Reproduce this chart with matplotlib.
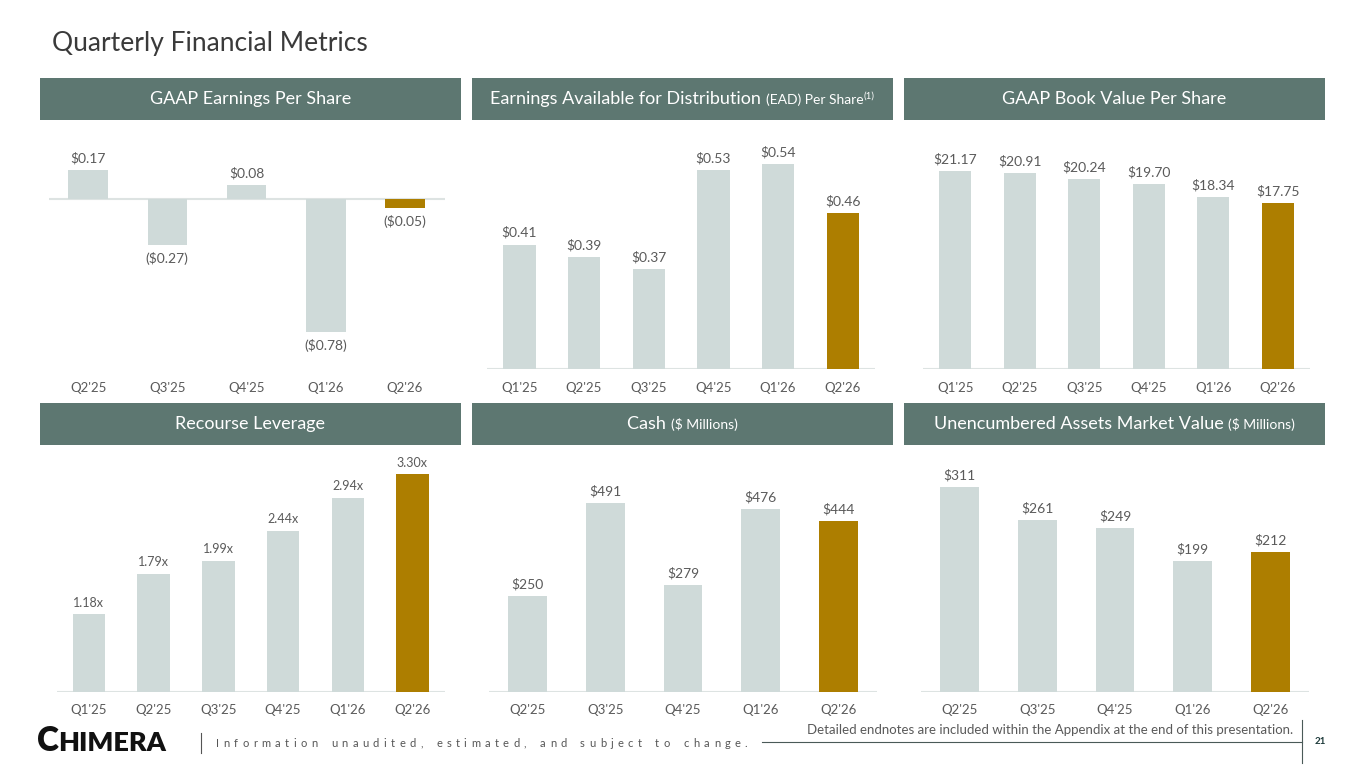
import matplotlib
matplotlib.use('Agg')
import matplotlib.pyplot as plt
from matplotlib.patches import Rectangle
from matplotlib.lines import Line2D

W, H = 1365, 768
plt.rcParams['font.family'] = ['Lato', 'DejaVu Sans']

# data
q_short = ["Q2'25", "Q3'25", "Q4'25", "Q1'26", "Q2'26"]
q_long = ["Q1'25", "Q2'25", "Q3'25", "Q4'25", "Q1'26", "Q2'26"]
gaap_eps = [0.17, -0.27, 0.08, -0.78, -0.05]
ead_ps = [0.41, 0.39, 0.37, 0.53, 0.54, 0.46]
book_value = [21.17, 20.91, 20.24, 19.70, 18.34, 17.75]
leverage = [1.18, 1.79, 1.99, 2.44, 2.94, 3.30]
cash = [250, 491, 279, 476, 444]
unencumbered = [311, 261, 249, 199, 212]

HEAD = '#5d7771'
BAR = '#cfdad9'
GOLD = '#ad7e00'
BASE = '#dde3e2'
TXT = '#5a5a5a'

fig = plt.figure(figsize=(W / 100, H / 100), dpi=100)
fig.patch.set_facecolor('white')
renderer = fig.canvas.get_renderer()


def fx(x):
    return x / W


def fy(y):
    return 1 - y / H


def money(v):
    return f'(${abs(v):.2f})' if v < 0 else f'${v:.2f}'


def header(x0, x1, y0, y1, parts):
    fig.add_artist(Rectangle((fx(x0), fy(y1)), fx(x1 - x0), (y1 - y0) / H,
                             transform=fig.transFigure, color=HEAD, lw=0))
    base = (y0 + y1) / 2 + 5
    texts = []
    for s, size, rise in parts:
        t = fig.text(0, fy(base - rise), s, fontsize=size, color='white',
                     va='baseline', ha='left')
        texts.append(t)
    widths = [t.get_window_extent(renderer).width for t in texts]
    x = (x0 + x1) / 2 - sum(widths) / 2
    for t, w in zip(texts, widths):
        t.set_x(fx(x))
        x += w


def panel(l, r, top, bottom, labels, vals, ylim, fmt, size=10):
    ax = fig.add_axes([fx(l), fy(bottom), fx(r - l), (bottom - top) / H])
    n = len(vals)
    colors = [BAR] * (n - 1) + [GOLD]
    ax.bar(range(n), vals, width=0.5, color=colors, zorder=2)
    ax.axhline(0 if ylim[0] < 0 else ylim[0], color=BASE, lw=1.5, zorder=1)
    ax.set_xlim(-0.5, n - 0.5)
    ax.set_ylim(*ylim)
    for sp in ax.spines.values():
        sp.set_visible(False)
    ax.set_yticks([])
    ax.set_xticks(range(n))
    ax.set_xticklabels(labels, fontsize=9.5, color=TXT)
    ax.tick_params(axis='x', length=0, pad=9)
    ax.patch.set_alpha(0)
    for i, v in enumerate(vals):
        if v >= 0:
            ax.annotate(fmt(v), (i, v), xytext=(0, 4), textcoords='offset points',
                        ha='center', va='bottom', fontsize=size, color=TXT)
        else:
            ax.annotate(fmt(v), (i, v), xytext=(0, -5), textcoords='offset points',
                        ha='center', va='top', fontsize=size, color=TXT)
    return ax


# title
fig.text(fx(52), fy(44), 'Quarterly Financial Metrics', fontsize=19,
         color='#3a3a3a', va='center', ha='left')

# headers
header(40, 461, 78, 120, [('GAAP Earnings Per Share', 13, 0)])
header(472, 893, 78, 120, [('Earnings Available for Distribution ', 13, 0),
                           ('(EAD) Per Share', 10, 0), ('(1)', 7, 5)])
header(904, 1325, 78, 120, [('GAAP Book Value Per Share', 13, 0)])
header(40, 461, 403, 445, [('Recourse Leverage', 13, 0)])
header(472, 893, 403, 445, [('Cash ', 13, 0), ('($ Millions)', 10, 0)])
header(904, 1325, 403, 445, [('Unencumbered Assets Market Value ', 13, 0),
                             ('($ Millions)', 10, 0)])

# panels
panel(48.5, 444.5, 130, 369, q_short, gaap_eps, (-0.994, 0.404), money)
panel(487, 875, 130, 369, q_long, ead_ps, (0.21, 0.594), money)
panel(923, 1310, 130, 369, q_long, book_value, (0, 25.5), money)
panel(56.6, 444.8, 455, 692, q_long, leverage, (0, 3.59),
      lambda v: f'{v:.2f}x', size=9)
panel(488.6, 877.4, 455, 692, q_short, cash, (0, 615.6),
      lambda v: f'${v:.0f}')
panel(920.6, 1309.4, 455, 692, q_short, unencumbered, (0, 359.6),
      lambda v: f'${v:.0f}')

# footer: logo
c = fig.text(fx(37), fy(751), 'C', fontsize=24, fontweight='heavy',
             color='#111111', va='baseline', ha='left')
cw = c.get_window_extent(renderer).width
fig.text(fx(37 + cw - 1), fy(751), 'HIMERA', fontsize=19.5, fontweight='heavy',
         color='#111111', va='baseline', ha='left')
fig.add_artist(Line2D([fx(201), fx(201)], [fy(733), fy(753)],
                      transform=fig.transFigure, color='#555555', lw=0.8))

# letter-spaced tagline
tagline = 'Information unaudited, estimated, and subject to change.'
x = 216
for ch in tagline:
    if ch == ' ':
        x += 9
        continue
    t = fig.text(fx(x), fy(747), ch, fontsize=8, color='#555555',
                 va='baseline', ha='left')
    x += t.get_window_extent(renderer).width + 4.4

# endnote and page number
fig.text(fx(1293), fy(730), 'Detailed endnotes are included within the Appendix '
         'at the end of this presentation.', fontsize=9.5, color=TXT,
         ha='right', va='center')
fig.add_artist(Line2D([fx(762), fx(1302)], [fy(742), fy(742)],
                      transform=fig.transFigure, color='#4a5a58', lw=0.8))
fig.add_artist(Line2D([fx(1302), fx(1302)], [fy(720), fy(763)],
                      transform=fig.transFigure, color='#4a5a58', lw=0.8))
fig.text(fx(1320), fy(742), '21', fontsize=7, fontweight='bold',
         color='#1d3a3a', ha='center', va='center')

fig.savefig('out.png', dpi=100, facecolor='white')
